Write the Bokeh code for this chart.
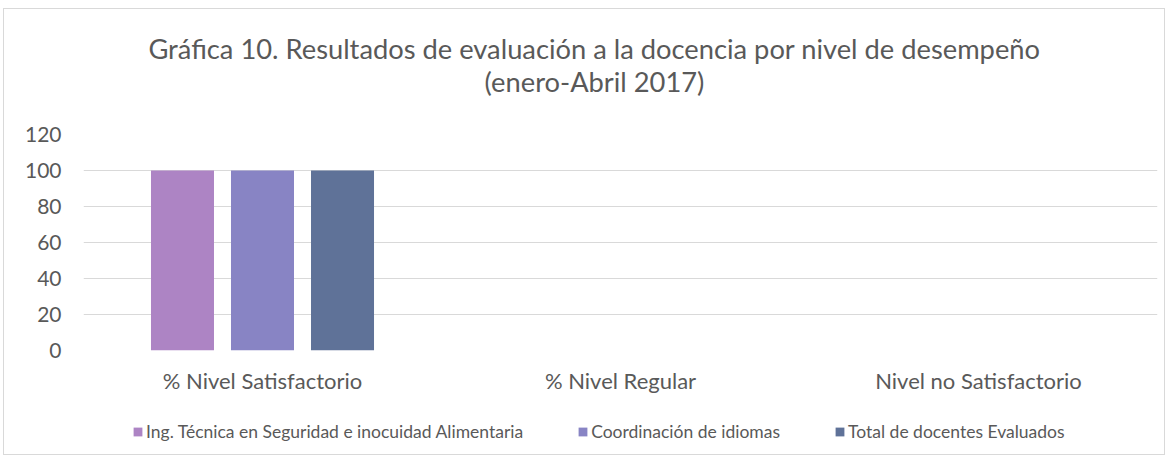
from bokeh.plotting import figure
from bokeh.layouts import column
from bokeh.models import ColumnDataSource, FactorRange, Label, Legend, LegendItem, Range1d
from bokeh.transform import dodge
from bokeh.embed import file_html
from bokeh.resources import INLINE

categories = ["% Nivel Satisfactorio", "% Nivel Regular", "Nivel no Satisfactorio"]
series_names = ["Ing. Técnica en Seguridad e inocuidad Alimentaria",
                "Coordinación de idiomas",
                "Total de docentes Evaluados"]
ing_tecnica = [100, 0, 0]
coord_idiomas = [100, 0, 0]
total_docentes = [100, 0, 0]
colors = ["#AD84C4", "#8884C4", "#5F7298"]
title_lines = ["Gráfica 10. Resultados de evaluación a la docencia por nivel de desempeño",
               "(enero-Abril 2017)"]

FONT = "Lato"
TXT = "#595959"

src = ColumnDataSource(dict(cat=categories, s0=ing_tecnica, s1=coord_idiomas, s2=total_docentes))

W = 1160

# title strip
t = figure(width=W, height=110, output_backend="svg", toolbar_location=None,
           x_axis_location=None, y_axis_location=None,
           x_range=Range1d(0, 1), y_range=Range1d(0, 1),
           min_border_left=0, min_border_right=0, min_border_top=0, min_border_bottom=0)
t.grid.visible = False
t.outline_line_color = None
t.border_fill_color = "white"
for k, txt in enumerate(title_lines):
    t.add_layout(Label(x=511, y=71 - k * 33, x_units="screen", y_units="screen", text=txt,
                       text_font=FONT, text_font_size="27.3px", text_color=TXT,
                       text_align="center", text_baseline="middle"))

p = figure(width=W, height=281, x_range=FactorRange(*categories), y_range=Range1d(0, 120),
           output_backend="svg", toolbar_location=None,
           min_border_left=79, min_border_right=7, min_border_top=15, min_border_bottom=50)
p.outline_line_color = None
p.background_fill_color = "white"
p.border_fill_color = "white"

bw = 0.176
off = 0.2235
renderers = []
for i, (col, c) in enumerate(zip(["s0", "s1", "s2"], colors)):
    r = p.vbar(x=dodge("cat", (i - 1) * off, range=p.x_range), top=col, width=bw,
               source=src, fill_color=c, line_color=None)
    renderers.append(r)

p.yaxis.ticker = [0, 20, 40, 60, 80, 100, 120]
p.ygrid.grid_line_color = "#D9D9D9"
p.ygrid.grid_line_width = 1
p.xgrid.grid_line_color = None
for ax in (p.xaxis, p.yaxis):
    ax.axis_line_color = None
    ax.major_tick_line_color = None
    ax.minor_tick_line_color = None
    ax.major_tick_out = 0
    ax.major_tick_in = 0
    ax.major_label_text_font = FONT
    ax.major_label_text_color = TXT
p.yaxis.major_label_text_font_size = "21px"
p.xaxis.major_label_text_font_size = "22px"
p.yaxis.major_label_standoff = 22
p.xaxis.major_label_standoff = 16

# legend strip (legend proxies carry no visible data)
q = figure(width=W, height=54, output_backend="svg", toolbar_location=None,
           x_axis_location=None, y_axis_location=None,
           x_range=Range1d(0, 1), y_range=Range1d(0, 1),
           min_border_left=0, min_border_right=0, min_border_top=0, min_border_bottom=0)
q.grid.visible = False
q.outline_line_color = None
q.border_fill_color = "white"
nan = float("nan")
leg_r = [q.vbar(x=[nan], top=[nan], width=0.1, fill_color=c, line_color=None) for c in colors]
legend = Legend(items=[LegendItem(label=n, renderers=[r]) for n, r in zip(series_names, leg_r)],
                orientation="horizontal", location=(49, 12),
                label_text_font=FONT, label_text_font_size="17.5px", label_text_color=TXT,
                glyph_width=11, glyph_height=11, spacing=54, label_standoff=3,
                label_height=20,
                border_line_color=None, background_fill_alpha=0, padding=0, margin=0)
q.add_layout(legend, "center")

layout = column(t, p, q, spacing=0,
                styles={"border": "1px solid #D9D9D9", "margin-top": "8px", "margin-left": "3px",
                        "background-color": "white"})

open("out.html", "w").write(file_html(layout, INLINE))
